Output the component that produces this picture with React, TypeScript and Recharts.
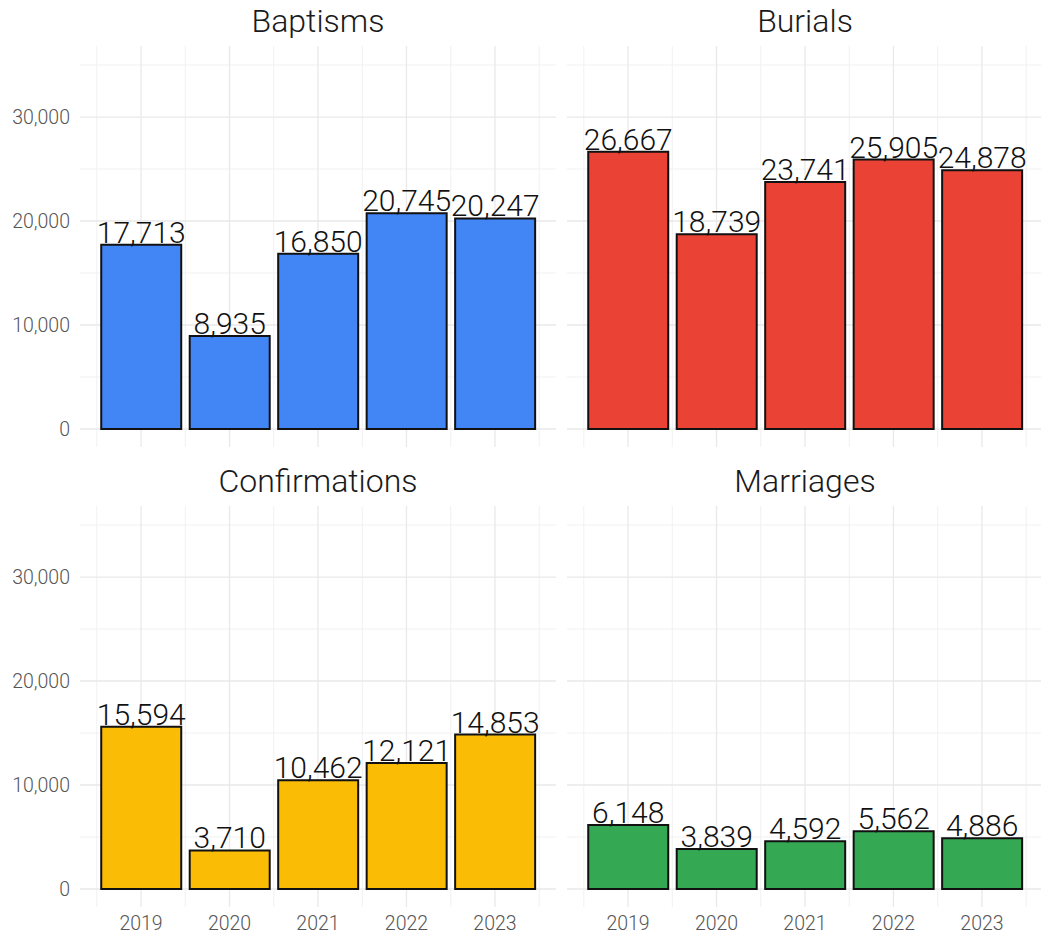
import { BarChart, Bar, XAxis, YAxis, CartesianGrid, LabelList } from 'recharts'

const years = ['2019', '2020', '2021', '2022', '2023']
const baptisms = [17713, 8935, 16850, 20745, 20247]
const burials = [26667, 18739, 23741, 25905, 24878]
const confirmations = [15594, 3710, 10462, 12121, 14853]
const marriages = [6148, 3839, 4592, 5562, 4886]

const yTicks = [0, 10000, 20000, 30000]
const yMinor = [5000, 15000, 25000, 35000]
const xTicks = [1, 2, 3, 4, 5]
const xMinor = [0.5, 1.5, 2.5, 3.5, 4.5, 5.5]

const FONT = 'Roboto, "Noto Sans", sans-serif'
const PLOT_W = 476

interface PanelProps {
  title: string
  values: number[]
  color: string
  left: number
  top: number
  showY: boolean
  showX: boolean
}

function Panel({ title, values, color, left, top, showY, showX }: PanelProps) {
  const data = values.map((v, i) => ({ pos: i + 1, year: years[i], value: v }))
  const w = showY ? 560 : 490
  const h = showX ? 477 : 460
  const plotLeft = showY ? 80 : 7

  return (
    <div style={{ position: 'absolute', left, top, width: w, height: h }}>
      <div
        style={{
          position: 'absolute',
          left: plotLeft,
          top: 5,
          width: PLOT_W,
          textAlign: 'center',
          fontFamily: FONT,
          fontWeight: 300,
          fontSize: 32,
          lineHeight: '32px',
          color: '#1a1a1a',
        }}
      >
        {title}
      </div>
      <BarChart
        width={w}
        height={h}
        data={data}
        margin={{ top: 46, right: w - plotLeft - PLOT_W, bottom: showX ? 0 : 13, left: showY ? 0 : 7 }}
        barCategoryGap="5%"
      >
        <CartesianGrid stroke="#f1f1f1" strokeWidth={1} horizontalValues={yMinor} verticalValues={xMinor} />
        <CartesianGrid stroke="#e9e9e9" strokeWidth={1.3} horizontalValues={yTicks} verticalValues={xTicks} />
        <XAxis
          type="number"
          dataKey="pos"
          domain={[0.31, 5.69]}
          ticks={xTicks}
          allowDataOverflow
          hide={!showX}
          height={30}
          axisLine={false}
          tickLine={false}
          tickMargin={3}
          tickFormatter={(v: number) => years[v - 1]}
          tick={{ fontSize: 19.5, fill: '#555', fontFamily: FONT, fontWeight: 300 }}
        />
        <YAxis
          type="number"
          domain={[-1730, 36830]}
          ticks={yTicks}
          allowDataOverflow
          hide={!showY}
          width={80}
          axisLine={false}
          tickLine={false}
          tickMargin={4}
          tickFormatter={(v: number) => v.toLocaleString('en-US')}
          tick={{ fontSize: 19.5, fill: '#555', fontFamily: FONT, fontWeight: 300 }}
        />
        <Bar dataKey="value" fill={color} stroke="#111" strokeWidth={2} isAnimationActive={false}>
          <LabelList
            dataKey="value"
            position="top"
            offset={2}
            formatter={(v: any) => Number(v).toLocaleString('en-US')}
            style={{ fontSize: 30, fill: '#111', fontFamily: FONT, fontWeight: 300, stroke: 'none' }}
          />
        </Bar>
      </BarChart>
    </div>
  )
}

export default function App() {
  return (
    <div
      style={{
        position: 'absolute',
        left: 0,
        top: 0,
        width: 1041,
        height: 937,
        overflow: 'hidden',
        background: '#fff',
      }}
    >
      <Panel title="Baptisms" values={baptisms} color="#4285F4" left={0} top={0} showY showX={false} />
      <Panel title="Burials" values={burials} color="#EA4335" left={560} top={0} showY={false} showX={false} />
      <Panel title="Confirmations" values={confirmations} color="#FBBC05" left={0} top={460} showY showX />
      <Panel title="Marriages" values={marriages} color="#34A853" left={560} top={460} showY={false} showX />
    </div>
  )
}
